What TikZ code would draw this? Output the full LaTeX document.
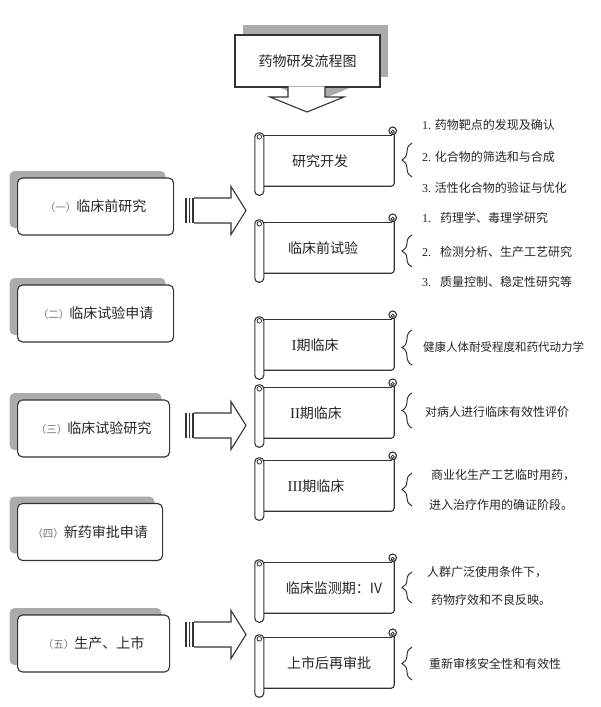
\documentclass[tikz,border=0pt]{standalone}
\usepackage{fontspec}
\setmainfont{Noto Sans CJK SC}
\newfontfamily\lat{Liberation Serif}
\usetikzlibrary{shadows,decorations.pathreplacing,calc}

\newcommand\pre[1]{{\fontsize{10.5pt}{12pt}\selectfont\color{black!55}#1}}
\newcommand\nm[1]{{\lat #1}}

\tikzset{
  ln/.style={draw=black!80, line width=1.1pt},
  leftbox/.style={ln, fill=white, rounded corners=5pt, minimum height=57pt, inner sep=0pt,
    font=\fontsize{14pt}{16pt}\selectfont, text=black!85, anchor=west,
    general shadow={fill=black!33, shadow xshift=-8pt, shadow yshift=7pt}},
  titlebox/.style={ln, fill=white, minimum width=145pt, minimum height=52pt, inner sep=0pt,
    font=\fontsize{14pt}{16pt}\selectfont, text=black!85,
    general shadow={fill=black!33, shadow xshift=8pt, shadow yshift=10pt}},
  scrollbox/.style={minimum width=130pt, minimum height=50pt, inner sep=0pt,
    font=\fontsize{14pt}{16pt}\selectfont, text=black!85},
  item/.style={anchor=west, inner sep=0pt, font=\fontsize{12pt}{14pt}\selectfont, text=black!85},
  bracelines/.style={draw=black!80, line width=1pt, decorate, decoration={brace, amplitude=10pt}},
  scrl/.style={draw=black!80, line width=1.1pt},
}

\newcommand\scrolldeco[1]{%
  \draw[scrl] (#1.north west) -- ([xshift=-2pt]#1.north east);
  \draw[scrl, rounded corners=3pt] ([yshift=4pt]#1.north east) -- (#1.south east) -- (#1.south west);
  \draw[scrl, fill=white] ([xshift=-1.5pt,yshift=5pt]#1.north east) circle (3.8pt);
  \draw[scrl, line width=0.8pt] ([xshift=-1.5pt,yshift=4pt]#1.north east) circle (1.6pt);
  \draw[scrl, fill=white, rounded corners=4pt] ([xshift=-9pt,yshift=3pt]#1.north west) rectangle ([yshift=-9pt]#1.south west);
  \draw[scrl, line width=0.8pt] ([xshift=-4.5pt,yshift=-1pt]#1.north west) circle (2.3pt);
}

\newcommand\blockarrow[1]{%
  \foreach \dx in {0,3.5,7}
    \draw[line width=1.3pt, black!80] ([xshift=\dx pt, yshift=12.5pt]#1) -- ([xshift=\dx pt, yshift=-12.5pt]#1);
  \draw[ln, fill=white, line join=miter] ([xshift=8pt,yshift=12.5pt]#1) -- ++(37pt,0pt) -- ++(0pt,11.5pt)
    -- ++(15pt,-24pt) -- ++(-15pt,-24pt) -- ++(0pt,11.5pt) -- ++(-37pt,0pt);
}

\begin{document}
\begin{tikzpicture}[x=1pt,y=-1pt]
\useasboundingbox (0,0) rectangle (600,707);
\fill[white] (0,0) rectangle (600,707);

% title callout
\fill[black!33] (296,76) -- (296,87) -- (278,87) -- (315,102) -- (352,87) -- (333,87) -- (333,76) -- cycle;
\node[titlebox] (title) at (307.5,61) {药物研发流程图};
\draw[ln, fill=white, line join=miter] (288,86.3) -- (288,97) -- (270,97) -- (307,112) -- (344,97) -- (325,97) -- (325,86.3);

% left stage boxes
\node[leftbox, minimum width=156pt] (b1) at (17,206.5) {\pre{（一）}临床前研究};
\node[leftbox, minimum width=156pt] (b2) at (17,313.5) {\pre{（二）}临床试验申请};
\node[leftbox, minimum width=152pt] (b3) at (17,428.5) {\pre{（三）}临床试验研究};
\node[leftbox, minimum width=145pt] (b4) at (17,532) {\pre{（四）}新药审批申请};
\node[leftbox, minimum width=152pt] (b5) at (17,643.5) {\pre{（五）}生产、上市};

% block arrows
\coordinate (a1) at (186,210.5);
\coordinate (a2) at (186,425.5);
\coordinate (a3) at (186,634.5);
\blockarrow{a1}
\blockarrow{a2}
\blockarrow{a3}

% scrolls
\node[scrollbox] (s1) at (329,161) {研究开发\hspace*{18pt}};
\scrolldeco{s1}
\node[scrollbox] (s2) at (329,248) {临床前试验\hspace*{12pt}};
\scrolldeco{s2}
\node[scrollbox] (s3) at (329,345) {{\lat\fontsize{15pt}{16pt}\selectfont I}期临床\hspace*{28pt}};
\scrolldeco{s3}
\node[scrollbox] (s4) at (329,413) {{\lat\fontsize{15pt}{16pt}\selectfont II}期临床\hspace*{26pt}};
\scrolldeco{s4}
\node[scrollbox] (s5) at (329,486) {{\lat\fontsize{15pt}{16pt}\selectfont III}期临床\hspace*{26pt}};
\scrolldeco{s5}
\node[scrollbox] (s6) at (329,588) {\hspace*{10pt}临床监测期：IV};
\scrolldeco{s6}
\node[scrollbox] (s7) at (329,663) {上市后再审批};
\scrolldeco{s7}

% braces
\draw[bracelines] (412,177) -- (412,143);
\draw[bracelines] (412,267) -- (412,235);
\draw[bracelines] (412,365) -- (412,330);
\draw[bracelines] (412,428) -- (412,393);
\draw[bracelines] (412,506) -- (412,473);
\draw[bracelines] (412,603) -- (412,572);
\draw[bracelines] (412,680) -- (412,647);

% item texts
\node[item] (g1a) at (422,125) {\nm{1.} 药物靶点的发现及确认};
\node[item] (g1b) at (422,157) {\nm{2.} 化合物的筛选和与合成};
\node[item] (g1c) at (422,188) {\nm{3.} 活性化合物的验证与优化};
\node[item] (g2a) at (422,218) {\nm{1.}\hspace{9pt}药理学、毒理学研究};
\node[item] (g2b) at (422,252) {\nm{2.}\hspace{9pt}检测分析、生产工艺研究};
\node[item] (g2c) at (422,282) {\nm{3.}\hspace{9pt}质量控制、稳定性研究等};
\node[item, font=\fontsize{11.5pt}{13pt}\selectfont] (g3) at (423,347) {健康人体耐受程度和药代动力学};
\node[item] (g4) at (425,412) {对病人进行临床有效性评价};
\node[item] (g5a) at (431,475) {商业化生产工艺临时用药，};
\node[item] (g5b) at (429,505) {进入治疗作用的确证阶段。};
\node[item] (g6a) at (427,572) {人群广泛使用条件下，};
\node[item] (g6b) at (431,600) {药物疗效和不良反映。};
\node[item] (g7) at (429,664) {重新审核安全性和有效性};
\end{tikzpicture}
\end{document}
